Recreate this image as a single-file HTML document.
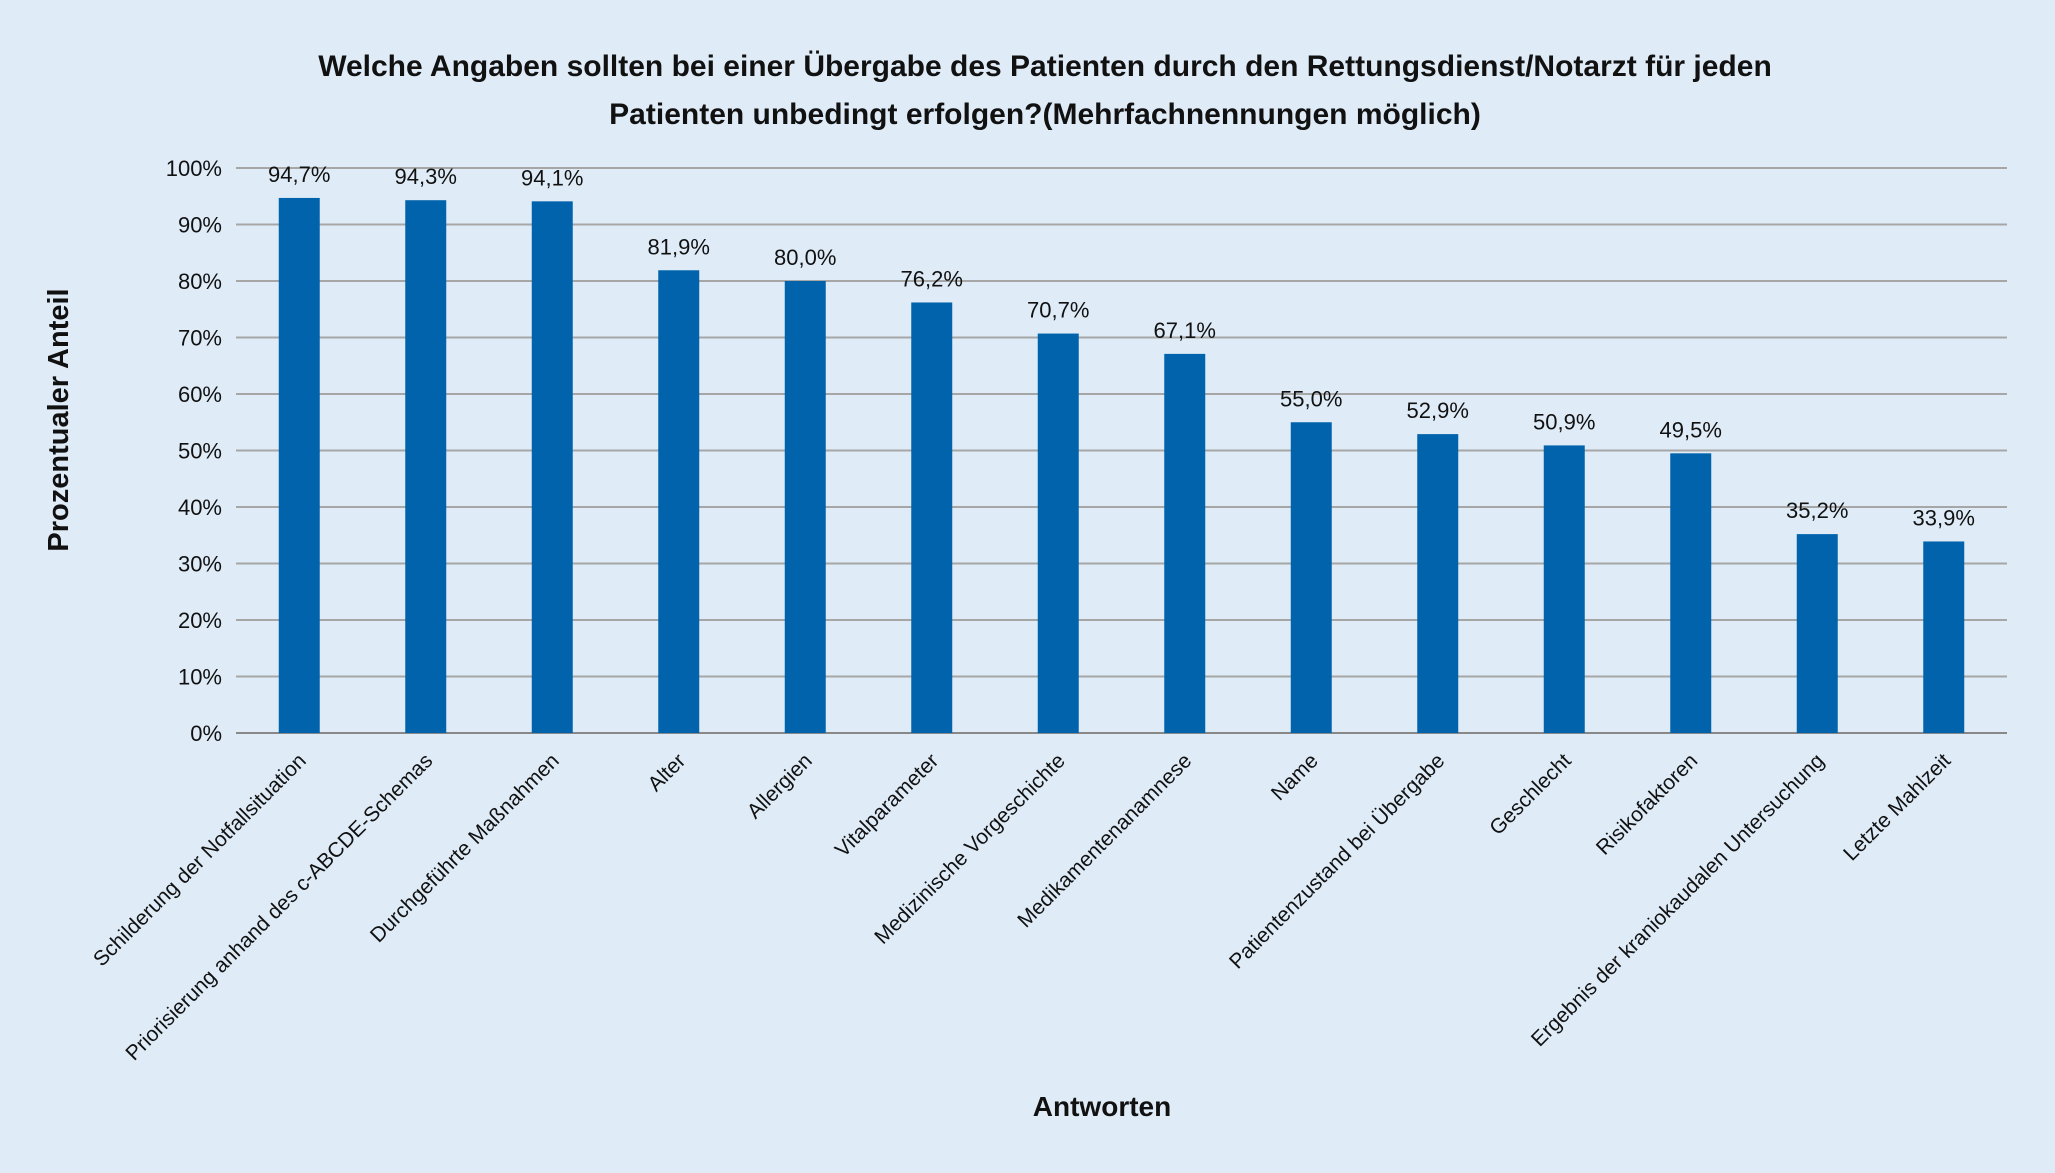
<!DOCTYPE html>
<html><head><meta charset="utf-8"><style>
html,body{margin:0;padding:0;background:#dfecf8;}
svg{display:block;font-family:"Liberation Sans",sans-serif;}
</style></head><body>
<svg id="chart" width="2055" height="1173" viewBox="0 0 2055 1173" xmlns="http://www.w3.org/2000/svg">
<rect x="0" y="0" width="2055" height="1173" fill="#dfecf8"/>
<text x="1045" y="76" text-anchor="middle" font-size="30" font-weight="bold" fill="#111">Welche Angaben sollten bei einer Übergabe des Patienten durch den Rettungsdienst/Notarzt für jeden</text>
<text x="1045" y="124" text-anchor="middle" font-size="30" font-weight="bold" fill="#111">Patienten unbedingt erfolgen?(Mehrfachnennungen möglich)</text>
<text transform="translate(68,420) rotate(-90)" text-anchor="middle" font-size="29" font-weight="bold" fill="#111">Prozentualer Anteil</text>
<text x="1102" y="1116" text-anchor="middle" font-size="28" font-weight="bold" fill="#111">Antworten</text>
<g id="grid"></g><g id="bars"></g><g id="labels"></g>
</svg>
<script>
const categories=["Schilderung der Notfallsituation","Priorisierung anhand des c-ABCDE-Schemas","Durchgeführte Maßnahmen","Alter","Allergien","Vitalparameter","Medizinische Vorgeschichte","Medikamentenanamnese","Name","Patientenzustand bei Übergabe","Geschlecht","Risikofaktoren","Ergebnis der kraniokaudalen Untersuchung","Letzte Mahlzeit"];
const values=[94.7,94.3,94.1,81.9,80.0,76.2,70.7,67.1,55.0,52.9,50.9,49.5,35.2,33.9];
const valueLabels=["94,7%","94,3%","94,1%","81,9%","80,0%","76,2%","70,7%","67,1%","55,0%","52,9%","50,9%","49,5%","35,2%","33,9%"];
const yTicks=[0,10,20,30,40,50,60,70,80,90,100];
const NS="http://www.w3.org/2000/svg";
const x0=236,x1=2007,y0=733,y1=168;
const bw=(x1-x0)/categories.length;
function y(v){return y0-(v/100)*(y0-y1);}
function xc(i){return x0+bw*(i+0.5);}
function mk(t,a,p){const e=document.createElementNS(NS,t);for(const k in a)e.setAttribute(k,a[k]);p.appendChild(e);return e;}
const g=document.getElementById('grid'),b=document.getElementById('bars'),l=document.getElementById('labels');
yTicks.forEach(t=>{
 const ln=mk('line',{x1:x0,x2:x1,y1:y(t),y2:y(t),stroke:t===0?'#888':'#a6a6a6','stroke-width':2},g);
 
 
 const tx=mk('text',{x:222,y:y(t)+8,'text-anchor':'end','font-size':22,fill:'#111'},g);
 tx.textContent=t+'%';
 
 
});
categories.forEach((c,i)=>{
 const r=mk('rect',{x:xc(i)-20.5,y:y(values[i]),width:41,height:y0-y(values[i]),fill:'#0063ac'},b);
 
 
 const v=mk('text',{x:xc(i),y:y(values[i])-16,'text-anchor':'middle','font-size':22,fill:'#111'},l);
 v.textContent=valueLabels[i];
 
 
 const cx=xc(i)+8,cy=762;
 const t=mk('text',{x:cx,y:cy,'text-anchor':'end','font-size':21,fill:'#111',transform:`rotate(-45 ${cx} ${cy})`},l);
 t.textContent=c;
 
 
});
</script>
</body></html>
